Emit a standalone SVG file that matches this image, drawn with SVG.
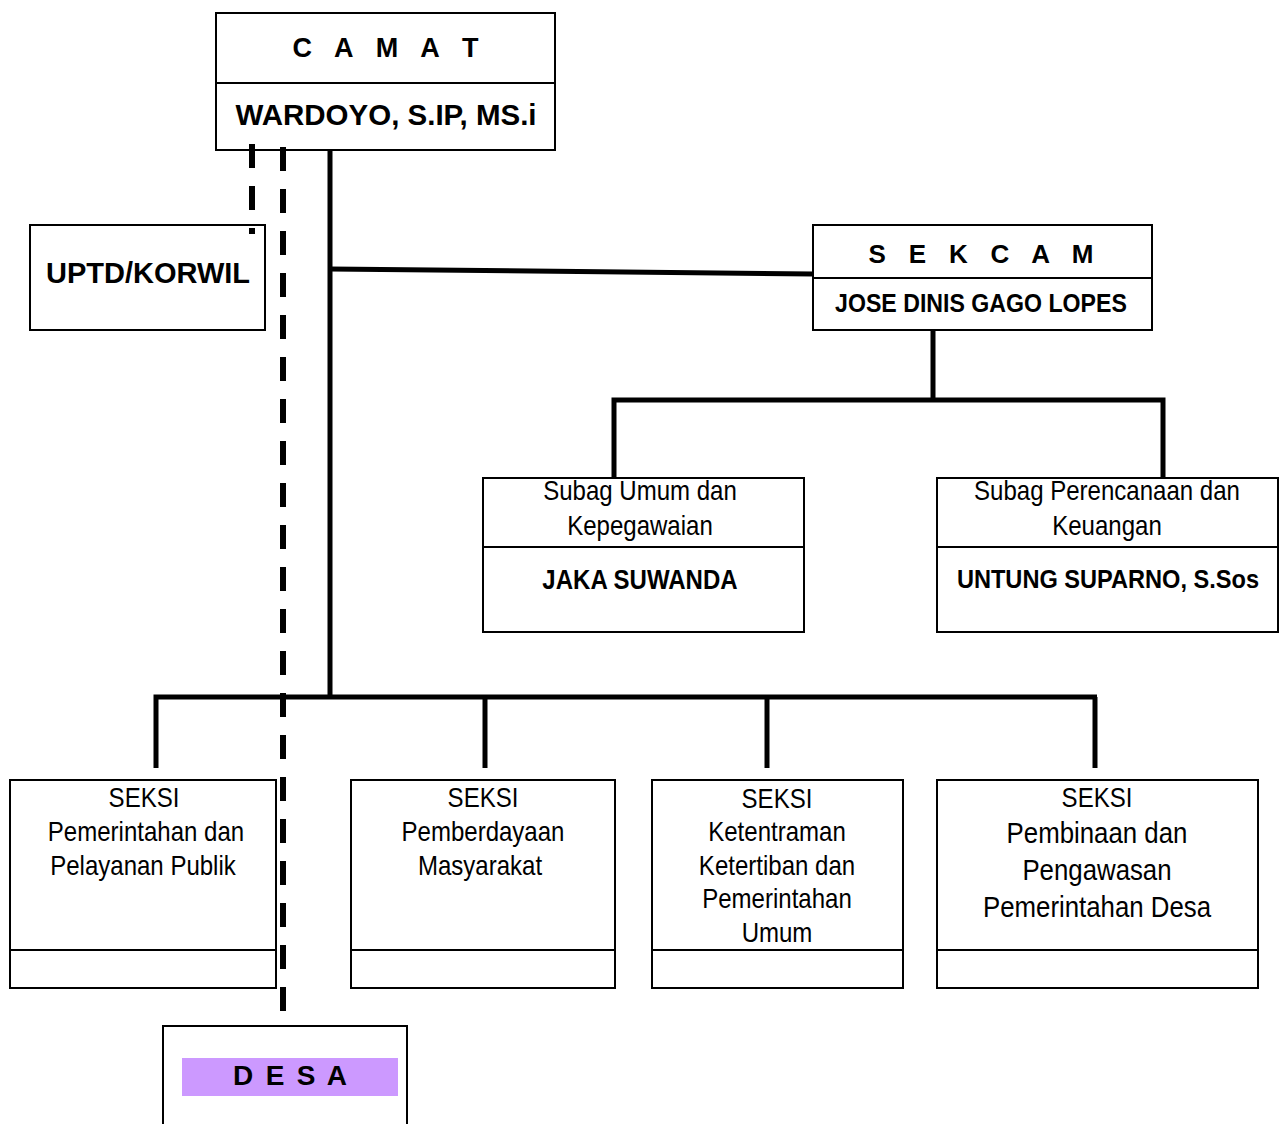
<svg xmlns="http://www.w3.org/2000/svg" width="1282" height="1124" viewBox="0 0 1282 1124">
<style>
.box{fill:#fff;stroke:#000;stroke-width:2}
.div{stroke:#000;stroke-width:2;fill:none}
.con{stroke:#000;stroke-width:5;fill:none;stroke-linejoin:miter}
.dash{stroke:#000;stroke-width:6;fill:none;stroke-dasharray:24 18}
text{font-family:"Liberation Sans",Arial,sans-serif;fill:#000;text-anchor:middle}
.b{font-weight:bold}
.r{font-size:27px}
.nar{transform:scaleX(0.89);transform-box:fill-box;transform-origin:center}
</style>
<rect width="1282" height="1124" fill="#fff"/>
<g id="camat">
<rect class="box" x="216" y="13" width="339" height="137"/>
<line class="div" x1="216" y1="83" x2="555" y2="83"/>
<text class="b" x="385.5" y="57" font-size="27" textLength="186" lengthAdjust="spacing">C A M A T</text>
<text class="b" x="386" y="125" font-size="29.5">WARDOYO, S.IP, MS.i</text>
</g>
<g id="uptd">
<rect class="box" x="30" y="225" width="235" height="105"/>
<text class="b" x="148" y="283" font-size="29">UPTD/KORWIL</text>
</g>
<g id="sekcam">
<rect class="box" x="813" y="225" width="339" height="105"/>
<line class="div" x1="813" y1="278" x2="1152" y2="278"/>
<text class="b" x="981" y="263" font-size="26" textLength="225" lengthAdjust="spacing">S E K C A M</text>
<text class="b nar" x="981" y="312" font-size="26">JOSE DINIS GAGO LOPES</text>
</g>
<g id="subag-umum">
<rect class="box" x="483" y="478" width="321" height="154"/>
<line class="div" x1="483" y1="547" x2="804" y2="547"/>
<text class="r nar" x="640" y="500">Subag Umum dan</text>
<text class="r nar" x="640" y="535">Kepegawaian</text>
<text class="b nar" x="640" y="589" font-size="27">JAKA SUWANDA</text>
</g>
<g id="subag-perencanaan">
<rect class="box" x="937" y="478" width="341" height="154"/>
<line class="div" x1="937" y1="547" x2="1278" y2="547"/>
<text class="r nar" x="1107" y="500">Subag Perencanaan dan</text>
<text class="r nar" x="1107" y="535">Keuangan</text>
<text class="b nar" x="1108" y="588" font-size="26.5">UNTUNG SUPARNO, S.Sos</text>
</g>
<g id="seksi-pemerintahan">
<rect class="box" x="10" y="780" width="266" height="208"/>
<line class="div" x1="10" y1="950" x2="276" y2="950"/>
<text class="r nar" x="144" y="807">SEKSI</text>
<text class="r nar" x="146" y="841">Pemerintahan dan</text>
<text class="r nar" x="143" y="875">Pelayanan Publik</text>
</g>
<g id="seksi-pemberdayaan">
<rect class="box" x="351" y="780" width="264" height="208"/>
<line class="div" x1="351" y1="950" x2="615" y2="950"/>
<text class="r nar" x="483" y="807">SEKSI</text>
<text class="r nar" x="483" y="841">Pemberdayaan</text>
<text class="r nar" x="480" y="875">Masyarakat</text>
</g>
<g id="seksi-ketentraman">
<rect class="box" x="652" y="780" width="251" height="208"/>
<line class="div" x1="652" y1="950" x2="903" y2="950"/>
<text class="r nar" x="777" y="808">SEKSI</text>
<text class="r nar" x="777" y="841">Ketentraman</text>
<text class="r nar" x="777" y="875">Ketertiban dan</text>
<text class="r nar" x="777" y="908">Pemerintahan</text>
<text class="r nar" x="777" y="942">Umum</text>
</g>
<g id="seksi-pembinaan">
<rect class="box" x="937" y="780" width="321" height="208"/>
<line class="div" x1="937" y1="950" x2="1258" y2="950"/>
<text class="nar" x="1097" y="807" font-size="27">SEKSI</text>
<text class="nar" x="1097" y="843" font-size="29">Pembinaan dan</text>
<text class="nar" x="1097" y="880" font-size="29">Pengawasan</text>
<text class="nar" x="1097" y="917" font-size="29">Pemerintahan Desa</text>
</g>
<g id="desa">
<rect class="box" x="163" y="1026" width="244" height="120"/>
<rect x="182" y="1058" width="216" height="38" fill="#cc99ff"/>
<text class="b" x="290" y="1085" font-size="28" textLength="114" lengthAdjust="spacing">D E S A</text>
</g>
<g id="connectors">
<path class="con" d="M330,150 V697"/>
<path class="con" d="M330,269 L813,274"/>
<path class="con" d="M933,330 V400"/>
<path class="con" d="M614,478 V400 H1163 V478"/>
<path class="con" d="M156,768 V697 H1097"/>
<path class="con" d="M485,697 V768"/>
<path class="con" d="M767,697 V768"/>
<path class="con" d="M1095,697 V768"/>
<path class="dash" d="M252,144 V234"/>
<path class="dash" d="M283,147 V1011"/>
</g>
</svg>
